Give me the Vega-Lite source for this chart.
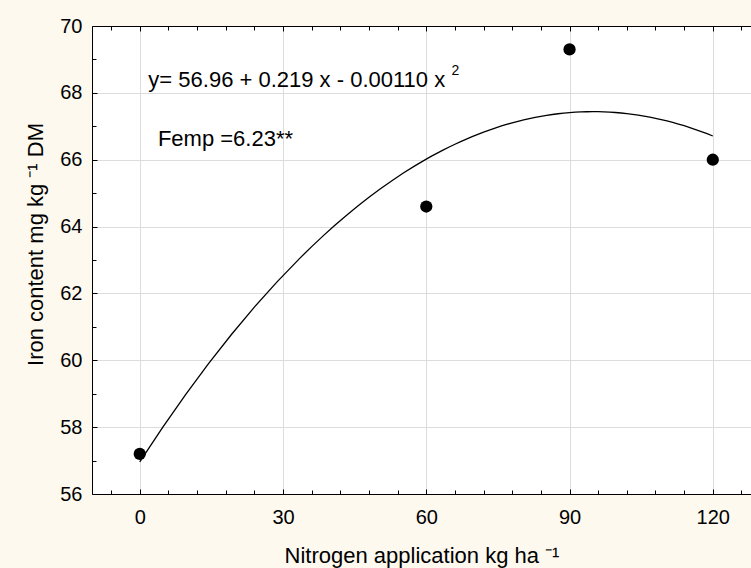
{
  "$schema": "https://vega.github.io/schema/vega-lite/v6.json",
  "width": 659,
  "height": 468,
  "autosize": "none",
  "padding": {"left": 92, "top": 26, "right": 0, "bottom": 74},
  "background": "#fdf9ef",
  "config": {"view": {"stroke": null, "fill": "white"}, "font": "Liberation Sans"},
  "data": {"values": [
    {"N": 0, "Fe": 57.2},
    {"N": 60, "Fe": 64.6},
    {"N": 90, "Fe": 69.3},
    {"N": 120, "Fe": 66.0}
  ]},
  "layer": [
    {
      "mark": {"type": "circle", "size": 150, "color": "black", "opacity": 1},
      "encoding": {
        "x": {
          "field": "N", "type": "quantitative",
          "scale": {"domain": [-10, 128], "nice": false, "zero": false},
          "axis": {
            "orient": "bottom",
            "values": [-6, 0, 6, 12, 18, 24, 30, 36, 42, 48, 54, 60, 66, 72, 78, 84, 90, 96, 102, 108, 114, 120, 126],
            "labelExpr": "datum.value % 30 === 0 ? datum.label : ''",
            "labelOverlap": false, "labelFlush": false,
            "grid": true, "gridColor": "#dcdcdc",
            "gridOpacity": {"condition": {"test": "datum.value % 30 === 0", "value": 1}, "value": 0},
            "tickSize": {"condition": {"test": "datum.value % 30 === 0", "value": -5}, "value": -4},
            "tickColor": "black", "domainColor": "black",
            "labelFontSize": 20, "labelColor": "black", "labelPadding": 18,
            "title": "Nitrogen application kg ha ⁻¹", "titleFontSize": 22, "titleFontWeight": "normal",
            "titleColor": "black", "titlePadding": 17
          }
        },
        "y": {
          "field": "Fe", "type": "quantitative",
          "scale": {"domain": [56, 70], "nice": false, "zero": false},
          "axis": {
            "orient": "left",
            "values": [56, 57, 58, 59, 60, 61, 62, 63, 64, 65, 66, 67, 68, 69, 70],
            "labelExpr": "datum.value % 2 === 0 ? datum.label : ''",
            "labelOverlap": false, "labelFlush": false,
            "grid": true, "gridColor": "#dcdcdc",
            "gridOpacity": {"condition": {"test": "datum.value % 2 === 0", "value": 1}, "value": 0},
            "tickSize": {"condition": {"test": "datum.value % 2 === 0", "value": -5}, "value": -4},
            "tickColor": "black", "domainColor": "black",
            "labelFontSize": 20, "labelColor": "black", "labelPadding": 15,
            "title": "Iron content mg kg ⁻¹ DM", "titleFontSize": 22, "titleFontWeight": "normal",
            "titleColor": "black", "titlePadding": 12, "titleY": 218
          }
        }
      }
    },
    {
      "transform": [{"regression": "Fe", "on": "N", "method": "poly", "order": 2, "extent": [0, 120]}],
      "mark": {"type": "line", "color": "black", "strokeWidth": 1.3},
      "encoding": {
        "x": {
          "field": "N", "type": "quantitative",
          "axis": {
            "orient": "top",
            "values": [-6, 0, 6, 12, 18, 24, 30, 36, 42, 48, 54, 60, 66, 72, 78, 84, 90, 96, 102, 108, 114, 120, 126],
            "labels": false, "grid": false,
            "tickSize": {"condition": {"test": "datum.value % 30 === 0", "value": -5}, "value": -4},
            "tickColor": "black", "domainColor": "black", "title": null
          }
        },
        "y": {"field": "Fe", "type": "quantitative", "axis": null}
      }
    },
    {
      "data": {"values": [{}]},
      "mark": {"type": "text", "text": "y= 56.96 + 0.219 x - 0.00110 x", "align": "left", "baseline": "alphabetic", "fontSize": 22, "color": "black"},
      "encoding": {
        "x": {"datum": 1.8, "type": "quantitative", "axis": null},
        "y": {"datum": 68.18, "type": "quantitative", "axis": null}
      }
    },
    {
      "data": {"values": [{}]},
      "mark": {"type": "text", "text": "2", "align": "left", "baseline": "alphabetic", "fontSize": 14, "color": "black"},
      "encoding": {
        "x": {"datum": 65.3, "type": "quantitative", "axis": null},
        "y": {"datum": 68.53, "type": "quantitative", "axis": null}
      }
    },
    {
      "data": {"values": [{}]},
      "mark": {"type": "text", "text": "Femp =6.23**", "align": "left", "baseline": "alphabetic", "fontSize": 22, "color": "black"},
      "encoding": {
        "x": {"datum": 3.8, "type": "quantitative", "axis": null},
        "y": {"datum": 66.41, "type": "quantitative", "axis": null}
      }
    }
  ],
  "resolve": {"axis": {"x": "independent", "y": "independent"}}
}
